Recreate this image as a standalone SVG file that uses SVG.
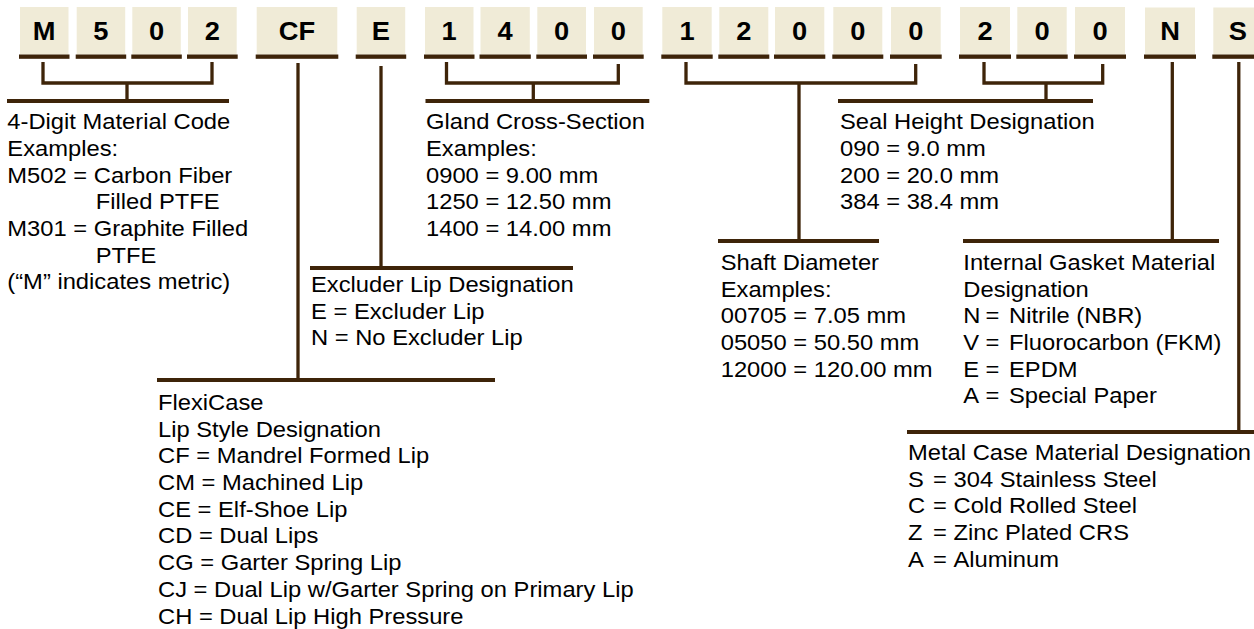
<svg xmlns="http://www.w3.org/2000/svg" width="1254" height="629" viewBox="0 0 1254 629">
<style>
.box{fill:#F0EBD7}
.ul{fill:#3E2409}
.hd{font-family:"Liberation Sans",Arial,sans-serif;font-weight:bold;font-size:25.5px;fill:#000;text-anchor:middle}
.lbl{font-family:"Liberation Sans",Arial,sans-serif;font-size:21.4px;fill:#000}
.conn{stroke:#3E2409;stroke-width:3.3;fill:none}
.bar{stroke:#3E2409;stroke-width:4.2;fill:none}
</style>
<rect width="1254" height="629" fill="#fff"/>
<g id="code">
<g id="c1" transform="translate(20,7)"><rect class="box" width="48.5" height="47.5"/><rect class="ul" x="-1" y="47.5" width="50.5" height="4.3"/><text class="hd" transform="translate(24.2,33) scale(1.07,1)">M</text></g>
<g id="c2" transform="translate(76.7,7)"><rect class="box" width="48.5" height="47.5"/><rect class="ul" x="-1" y="47.5" width="50.5" height="4.3"/><text class="hd" transform="translate(24.2,33) scale(1.07,1)">5</text></g>
<g id="c3" transform="translate(132.3,7)"><rect class="box" width="48.5" height="47.5"/><rect class="ul" x="-1" y="47.5" width="50.5" height="4.3"/><text class="hd" transform="translate(24.2,33) scale(1.07,1)">0</text></g>
<g id="c4" transform="translate(188,7)"><rect class="box" width="48.7" height="47.5"/><rect class="ul" x="-1" y="47.5" width="50.7" height="4.3"/><text class="hd" transform="translate(24.3,33) scale(1.07,1)">2</text></g>
<g id="c5" transform="translate(256.7,7)"><rect class="box" width="80.6" height="47.5"/><rect class="ul" x="-1" y="47.5" width="82.6" height="4.3"/><text class="hd" transform="translate(40.3,33) scale(1.07,1)">CF</text></g>
<g id="c6" transform="translate(356.7,7)"><rect class="box" width="48.5" height="47.5"/><rect class="ul" x="-1" y="47.5" width="50.5" height="4.3"/><text class="hd" transform="translate(24.2,33) scale(1.07,1)">E</text></g>
<g id="c7" transform="translate(425,7)"><rect class="box" width="48.5" height="47.5"/><rect class="ul" x="-1" y="47.5" width="50.5" height="4.3"/><text class="hd" transform="translate(24.2,33) scale(1.07,1)">1</text></g>
<g id="c8" transform="translate(480.5,7)"><rect class="box" width="49.3" height="47.5"/><rect class="ul" x="-1" y="47.5" width="51.3" height="4.3"/><text class="hd" transform="translate(24.6,33) scale(1.07,1)">4</text></g>
<g id="c9" transform="translate(537.3,7)"><rect class="box" width="48.7" height="47.5"/><rect class="ul" x="-1" y="47.5" width="50.7" height="4.3"/><text class="hd" transform="translate(24.3,33) scale(1.07,1)">0</text></g>
<g id="c10" transform="translate(594,7)"><rect class="box" width="48.7" height="47.5"/><rect class="ul" x="-1" y="47.5" width="50.7" height="4.3"/><text class="hd" transform="translate(24.3,33) scale(1.07,1)">0</text></g>
<g id="c11" transform="translate(662.3,7)"><rect class="box" width="49.4" height="47.5"/><rect class="ul" x="-1" y="47.5" width="51.4" height="4.3"/><text class="hd" transform="translate(24.7,33) scale(1.07,1)">1</text></g>
<g id="c12" transform="translate(719.3,7)"><rect class="box" width="49" height="47.5"/><rect class="ul" x="-1" y="47.5" width="51" height="4.3"/><text class="hd" transform="translate(24.5,33) scale(1.07,1)">2</text></g>
<g id="c13" transform="translate(775,7)"><rect class="box" width="49.3" height="47.5"/><rect class="ul" x="-1" y="47.5" width="51.3" height="4.3"/><text class="hd" transform="translate(24.6,33) scale(1.07,1)">0</text></g>
<g id="c14" transform="translate(833.3,7)"><rect class="box" width="49" height="47.5"/><rect class="ul" x="-1" y="47.5" width="51" height="4.3"/><text class="hd" transform="translate(24.5,33) scale(1.07,1)">0</text></g>
<g id="c15" transform="translate(891,7)"><rect class="box" width="49.7" height="47.5"/><rect class="ul" x="-1" y="47.5" width="51.7" height="4.3"/><text class="hd" transform="translate(24.8,33) scale(1.07,1)">0</text></g>
<g id="c16" transform="translate(960,7)"><rect class="box" width="50" height="47.5"/><rect class="ul" x="-1" y="47.5" width="52" height="4.3"/><text class="hd" transform="translate(25,33) scale(1.07,1)">2</text></g>
<g id="c17" transform="translate(1017.3,7)"><rect class="box" width="49.4" height="47.5"/><rect class="ul" x="-1" y="47.5" width="51.4" height="4.3"/><text class="hd" transform="translate(24.7,33) scale(1.07,1)">0</text></g>
<g id="c18" transform="translate(1075,7)"><rect class="box" width="50" height="47.5"/><rect class="ul" x="-1" y="47.5" width="52" height="4.3"/><text class="hd" transform="translate(25,33) scale(1.07,1)">0</text></g>
<g id="c19" transform="translate(1145,7.5)"><rect class="box" width="50" height="47"/><rect class="ul" x="-1" y="47" width="52" height="4.3"/><text class="hd" transform="translate(25,32.5) scale(1.07,1)">N</text></g>
<g id="c20" transform="translate(1213.3,7.5)"><rect class="box" width="49" height="47"/><rect class="ul" x="-1" y="47" width="51" height="4.3"/><text class="hd" transform="translate(24.5,32.5) scale(1.07,1)">S</text></g>
</g>
<g id="connectors">
<path class="conn" d="M43,62 V83 H212 V62 M127,83 V101"/>
<path class="bar" d="M7,101 H229"/>
<path class="conn" d="M298,63 V380"/>
<path class="bar" d="M157,380 H495"/>
<path class="conn" d="M381,66 V268"/>
<path class="bar" d="M310,268 H573"/>
<path class="conn" d="M446.5,62 V83 H618.3 V64 M533.3,83 V101"/>
<path class="bar" d="M425.5,101 H649.3"/>
<path class="conn" d="M686,62 V83 H915.7 V64 M799,83 V241"/>
<path class="bar" d="M718,241 H879"/>
<path class="conn" d="M984,62 V83 H1102.7 V64 M1046,83 V101"/>
<path class="bar" d="M838,101 H1093"/>
<path class="conn" d="M1172.3,62 V241"/>
<path class="bar" d="M963,241 H1219"/>
<path class="conn" d="M1238.8,62 V432"/>
<path class="bar" d="M907,432 H1254"/>
</g>
<g id="material">
<text class="lbl" transform="translate(7.3,129.3) scale(1.11,1)"><tspan x="0" y="0">4-Digit Material Code</tspan><tspan x="0" y="26.7">Examples:</tspan><tspan x="0" y="53.4">M502 = Carbon Fiber</tspan><tspan x="79.6" y="80.1">Filled PTFE</tspan><tspan x="0" y="106.8">M301 = Graphite Filled</tspan><tspan x="79.6" y="133.5">PTFE</tspan><tspan x="0" y="160.2">(“M” indicates metric)</tspan></text>
</g>
<g id="gland">
<text class="lbl" transform="translate(426,129.3) scale(1.11,1)"><tspan x="0" y="0">Gland Cross-Section</tspan><tspan x="0" y="26.7">Examples:</tspan><tspan x="0" y="53.4">0900 = 9.00 mm</tspan><tspan x="0" y="80.1">1250 = 12.50 mm</tspan><tspan x="0" y="106.8">1400 = 14.00 mm</tspan></text>
</g>
<g id="seal">
<text class="lbl" transform="translate(840,129.3) scale(1.11,1)"><tspan x="0" y="0">Seal Height Designation</tspan><tspan x="0" y="26.7">090 = 9.0 mm</tspan><tspan x="0" y="53.4">200 = 20.0 mm</tspan><tspan x="0" y="80.1">384 = 38.4 mm</tspan></text>
</g>
<g id="excluder">
<text class="lbl" transform="translate(311,292) scale(1.11,1)"><tspan x="0" y="0">Excluder Lip Designation</tspan><tspan x="0" y="26.7">E = Excluder Lip</tspan><tspan x="0" y="53.4">N = No Excluder Lip</tspan></text>
</g>
<g id="shaft">
<text class="lbl" transform="translate(720.7,270) scale(1.11,1)"><tspan x="0" y="0">Shaft Diameter</tspan><tspan x="0" y="26.7">Examples:</tspan><tspan x="0" y="53.4">00705 = 7.05 mm</tspan><tspan x="0" y="80.1">05050 = 50.50 mm</tspan><tspan x="0" y="106.8">12000 = 120.00 mm</tspan></text>
</g>
<g id="gasket">
<text class="lbl" transform="translate(963.3,270) scale(1.11,1)"><tspan x="0" y="0">Internal Gasket Material</tspan><tspan x="0" y="26.7">Designation</tspan><tspan x="0" y="53.4">N</tspan><tspan x="20" y="53.4">=</tspan><tspan x="41.2" y="53.4">Nitrile (NBR)</tspan><tspan x="0" y="80.1">V</tspan><tspan x="20" y="80.1">=</tspan><tspan x="41.2" y="80.1">Fluorocarbon (FKM)</tspan><tspan x="0" y="106.8">E</tspan><tspan x="20" y="106.8">=</tspan><tspan x="41.2" y="106.8">EPDM</tspan><tspan x="0" y="133.5">A</tspan><tspan x="20" y="133.5">=</tspan><tspan x="41.2" y="133.5">Special Paper</tspan></text>
</g>
<g id="metal">
<text class="lbl" transform="translate(908,460) scale(1.11,1)"><tspan x="0" y="0">Metal Case Material Designation</tspan><tspan x="0" y="26.7">S</tspan><tspan x="22.5" y="26.7">=</tspan><tspan x="41" y="26.7">304 Stainless Steel</tspan><tspan x="0" y="53.4">C</tspan><tspan x="22.5" y="53.4">=</tspan><tspan x="41" y="53.4">Cold Rolled Steel</tspan><tspan x="0" y="80.1">Z</tspan><tspan x="22.5" y="80.1">=</tspan><tspan x="41" y="80.1">Zinc Plated CRS</tspan><tspan x="0" y="106.8">A</tspan><tspan x="22.5" y="106.8">=</tspan><tspan x="41" y="106.8">Aluminum</tspan></text>
</g>
<g id="flexicase">
<text class="lbl" transform="translate(158,410) scale(1.11,1)"><tspan x="0" y="0">FlexiCase</tspan><tspan x="0" y="26.7">Lip Style Designation</tspan><tspan x="0" y="53.4">CF = Mandrel Formed Lip</tspan><tspan x="0" y="80.1">CM = Machined Lip</tspan><tspan x="0" y="106.8">CE = Elf-Shoe Lip</tspan><tspan x="0" y="133.5">CD = Dual Lips</tspan><tspan x="0" y="160.2">CG = Garter Spring Lip</tspan><tspan x="0" y="186.9">CJ = Dual Lip w/Garter Spring on Primary Lip</tspan><tspan x="0" y="213.6">CH = Dual Lip High Pressure</tspan></text>
</g>
</svg>
